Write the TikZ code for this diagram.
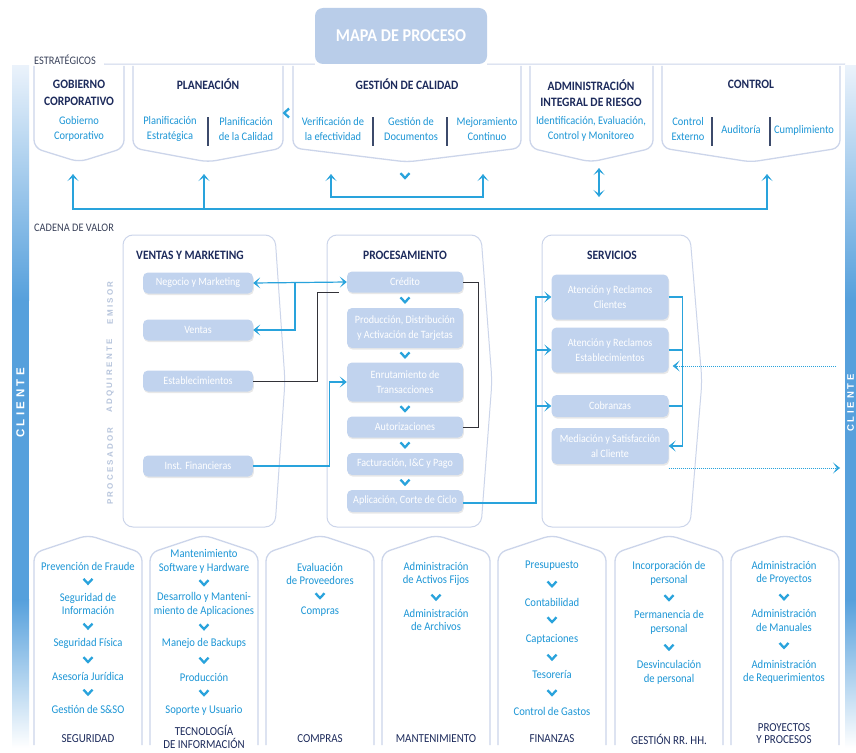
\documentclass[tikz,border=0pt]{standalone}
\usepackage{fontspec}
\setmainfont[FakeStretch=0.9]{Carlito}
\newfontfamily\barfont[LetterSpace=30]{Liberation Sans}
\newfontfamily\lanefont[LetterSpace=28]{Liberation Sans}
\usetikzlibrary{calc, positioning, arrows.meta, shadows}

\definecolor{navy}{RGB}{29,43,92}
\definecolor{itemblue}{RGB}{28,150,214}
\definecolor{linkblue}{RGB}{41,163,220}
\definecolor{boxfill}{RGB}{193,211,238}
\definecolor{titlefill}{RGB}{185,205,233}
\definecolor{framecol}{RGB}{204,213,234}
\definecolor{sepcol}{RGB}{60,74,107}
\definecolor{secgray}{RGB}{58,66,90}
\definecolor{lanegray}{RGB}{182,196,220}
\definecolor{darkline}{RGB}{50,50,56}
\definecolor{barblue}{RGB}{86,160,220}
\definecolor{barpale}{RGB}{234,242,251}

\tikzset{
  sect/.style={font=\fontsize{11.5}{12}\selectfont, text=secgray, inner sep=0},
  hd/.style={font=\fontsize{12.8}{16.5}\selectfont\bfseries, text=navy, align=center, inner sep=0},
  sub/.style={font=\fontsize{11.6}{15}\selectfont, text=itemblue, align=center, inner sep=0},
  itm/.style={font=\fontsize{11.8}{13.5}\selectfont, text=itemblue, align=center, inner sep=0},
  foot/.style={font=\fontsize{12.2}{12.5}\selectfont, text=navy, align=center, inner sep=0},
  vbox/.style={fill=boxfill, rounded corners=5, text=white, align=center, inner sep=1,
    font=\fontsize{11.2}{14.5}\selectfont,
    drop shadow={opacity=0.18, shadow xshift=0.8pt, shadow yshift=-1.6pt}},
  titlebox/.style={fill=titlefill, rounded corners=8, text=white, minimum width=172, minimum height=56,
    font=\fontsize{18}{19}\selectfont\bfseries},
  lane/.style={rotate=90, font=\lanefont\bfseries\fontsize{8}{9}\selectfont, text=lanegray, inner sep=0},
  barlabel/.style={rotate=90, font=\barfont\bfseries\fontsize{11.5}{12}\selectfont, text=white, inner sep=0},
  link/.style={draw=linkblue, line width=1.2pt},
  dark/.style={draw=darkline, line width=0.9pt},
  dots/.style={draw=linkblue, line width=1pt, dash pattern=on 1pt off 1pt},
  frame/.style={draw=framecol, line width=1.3pt, rounded corners=8},
  thinframe/.style={draw=framecol, line width=1pt},
  panel/.style={draw=framecol, line width=1pt, rounded corners=10},
  sep/.style={draw=sepcol, line width=1.2pt},
  chev/.style={draw=linkblue, line width=2.3pt},
  chevdown/.pic={\draw[chev] (-4.5,-2.8) -- (0,2) -- (4.5,-2.8);},
  chevleft/.pic={\draw[chev] (2,-4.5) -- (-2.8,0) -- (2,4.5);},
  house/.pic={\draw[frame] (0,210) -- (0,18) -- (54,0) -- (108,18) -- (108,210);},
}

\begin{document}
\begin{tikzpicture}[x=1pt, y=-1pt, >={Stealth[length=7pt, width=11pt, inset=3.8pt]}]

  \fill[white] (0,0) rectangle (856,752);
  \useasboundingbox (0,0) rectangle (856,752);

  % client bars
  \shade[top color=barpale, bottom color=barblue] (12,66) rectangle (29,300);
  \fill[barblue] (12,299.5) rectangle (29,600);
  \shade[top color=barblue, bottom color=white] (12,599.5) rectangle (29,748);
  \shade[top color=barpale, bottom color=barblue] (845,66) rectangle (856,300);
  \fill[barblue] (845,299.5) rectangle (856,600);
  \shade[top color=barblue, bottom color=white] (845,599.5) rectangle (856,748);
  \node[barlabel] (cli-left)  at (20.5,403) {CLIENTE};
  \node[barlabel, font=\barfont\bfseries\fontsize{9.5}{10}\selectfont] (cli-right) at (850.5,403) {CLIENTE};

  % title
  \node[titlebox] (title) at (401,36) {MAPA DE PROCESO};

  % strategic processes
  \node[sect, anchor=west] (estrat) at (34,60) {ESTRATÉGICOS};
  \draw[thinframe] (104,64) -- (title.south west);
  \draw[thinframe] (title.south east) -- (845,64);

  \draw[frame] (34,66)  -- (34,148)  -- (79,162)  -- (124,148) -- (124,66);
  \draw[frame] (133,66) -- (133,148) -- (208,162) -- (283,148) -- (283,66);
  \draw[frame] (293,66) -- (293,148) -- (407,162) -- (521,148) -- (521,66);
  \draw[frame] (530,66) -- (530,148) -- (591,162) -- (653,148) -- (653,66);
  \draw[frame] (662,66) -- (662,148) -- (751,162) -- (840,148) -- (840,66);

  \node[hd] (gob-hd)  at (79,93)  {GOBIERNO\\CORPORATIVO};
  \node[sub] (gob-a)  at (79,129) {Gobierno\\Corporativo};

  \node[hd] (plan-hd) at (208,84)  {PLANEACIÓN};
  \node[sub] (plan-a) at (170,129) {Planificación\\Estratégica};
  \node[sub] (plan-b) at (246,129) {Planificación\\de la Calidad};
  \draw[sep] (208,117) -- (208,146);

  \node[hd] (cal-hd) at (407,84)  {GESTIÓN DE CALIDAD};
  \node[sub] (cal-a) at (333,129) {Verificación de\\la efectividad};
  \node[sub] (cal-b) at (411,129) {Gestión de\\Documentos};
  \node[sub] (cal-c) at (487,129) {Mejoramiento\\Continuo};
  \draw[sep] (373,117) -- (373,146);
  \draw[sep] (447,117) -- (447,146);

  \node[hd] (rie-hd) at (591,93)  {ADMINISTRACIÓN\\INTEGRAL DE RIESGO};
  \node[sub] (rie-a) at (591,129) {Identificación, Evaluación,\\Control y Monitoreo};

  \node[hd] (ctl-hd) at (751,84)  {CONTROL};
  \node[sub] (ctl-a) at (688,129) {Control\\Externo};
  \node[sub] (ctl-b) at (741,130) {Auditoría};
  \node[sub] (ctl-c) at (804,130) {Cumplimiento};
  \draw[sep] (712,117) -- (712,146);
  \draw[sep] (770,117) -- (770,146);

  \pic at (287,113) {chevleft};

  % feedback lines under the strategic row
  \coordinate (up-gob)  at (73,174);
  \coordinate (up-plan) at (204,174);
  \coordinate (up-ver)  at (331,174);
  \coordinate (up-mej)  at (483,174);
  \coordinate (up-ctl)  at (767,174);
  \coordinate (bus-w)   at (73,209);
  \coordinate (cal-bar) at (407,197);
  \coordinate (rie-top) at (599,168);
  \coordinate (rie-bot) at (599,197);

  \draw[link, <->] (up-gob) -- (bus-w) -| (up-ctl);
  \draw[link, ->] (up-plan |- bus-w) -- (up-plan);
  \draw[link, <->] (up-ver) -- (up-ver |- cal-bar) -- (up-mej |- cal-bar) -- (up-mej);
  \draw[link, <->] (rie-top) -- (rie-bot);
  \pic at (405,176) {chevdown};

  % value chain
  \node[sect, anchor=west] (cadena) at (34,228) {CADENA DE VALOR};

  \draw[panel] (123,235) -- (275,235) -- (285,381) -- (275,527) -- (123,527) -- cycle;
  \draw[panel] (327,235) -- (481,235) -- (492,381) -- (481,527) -- (327,527) -- cycle;
  \draw[panel] (542,235) -- (690,235) -- (702,381) -- (690,527) -- (542,527) -- cycle;

  \node[hd] (vm-hd) at (190,255) {VENTAS Y MARKETING};
  \node[hd] (pr-hd) at (405,255) {PROCESAMIENTO};
  \node[hd] (sv-hd) at (612,255) {SERVICIOS};

  \node[lane] (emisor) at (110,303) {EMISOR};
  \node[lane] (adqui)  at (110,376) {ADQUIRENTE};
  \node[lane] (proce)  at (110,466) {PROCESADOR};

  \node[vbox, minimum width=110, minimum height=21] (neg)  at (198,283) {Negocio y Marketing};
  \node[vbox, minimum width=110, minimum height=21] (ven)  at (198,330) {Ventas};
  \node[vbox, minimum width=110, minimum height=21] (est)  at (198,381) {Establecimientos};
  \node[vbox, minimum width=110, minimum height=21] (inst) at (198,466) {Inst. Financieras};

  \node[vbox, minimum width=116, minimum height=21] (cred) at (405,282) {Crédito};
  \node[vbox, minimum width=116, minimum height=40] (prod) at (405,328) {Producción, Distribución\\y Activación de Tarjetas};
  \node[vbox, minimum width=116, minimum height=39] (enr)  at (405,382) {Enrutamiento de\\Transacciones};
  \node[vbox, minimum width=116, minimum height=21] (aut)  at (405,427) {Autorizaciones};
  \node[vbox, minimum width=116, minimum height=22] (fac)  at (405,464) {Facturación, I\&C y Pago};
  \node[vbox, minimum width=116, minimum height=22] (apl)  at (405,501) {Aplicación, Corte de Ciclo};

  \pic at ($(cred.south)!0.5!(prod.north)$) {chevdown};
  \pic at ($(prod.south)!0.5!(enr.north)$)  {chevdown};
  \pic at ($(enr.south)!0.5!(aut.north)$)   {chevdown};
  \pic at ($(aut.south)!0.5!(fac.north)$)   {chevdown};
  \pic at ($(fac.south)!0.5!(apl.north)$)   {chevdown};

  \node[vbox, minimum width=117, minimum height=45] (aten-cl) at (610,297) {Atención y Reclamos\\Clientes};
  \node[vbox, minimum width=117, minimum height=45] (aten-es) at (610,350) {Atención y Reclamos\\Establecimientos};
  \node[vbox, minimum width=117, minimum height=22] (cob)     at (610,406) {Cobranzas};
  \node[vbox, minimum width=117, minimum height=36] (med)     at (610,446) {Mediación y Satisfacción\\al Cliente};

  % connectors of the value chain
  \coordinate (j-neg) at (295,283);
  \draw[link, <->] (neg.east) -- (cred.west);
  \draw[link, ->] (neg.east -| j-neg) |- (ven.east);
  \draw[dark] (est.east) -| ($(cred.south west)+(-29,0)$) -- ($(cred.south west)+(-8,0)$);
  \draw[link, ->] (inst.east) -| ($(enr.west)+(-17,0)$) -- (enr.west);
  \draw[dark] (cred.east) -- ++(15,0) |- (aut.east);

  \coordinate (j-srv) at (536,503);
  \draw[link, ->] (apl.east |- j-srv) -- (j-srv) |- (aten-cl.west);
  \draw[link, ->] (aten-es.west -| j-srv) -- (aten-es.west);
  \draw[link, ->] (cob.west -| j-srv) -- (cob.west);
  \draw[link, ->] (aten-cl.east) -- ++(14,0) |- (med.east);
  \draw[link] (aten-es.east) -- ++(14,0);
  \draw[link] (cob.east) -- ++(14,0);

  \coordinate (cli-in)  at (836,366);
  \coordinate (cli-out) at (840,468);
  \draw[dots, ->] (cli-in) -- ($(aten-es.east |- cli-in)+(4,0)$);
  \draw[dots, ->] (med.east |- cli-out) -- (cli-out);

  % support processes
  \pic at (34,535)  {house};
  \pic at (150,535) {house};
  \pic at (266,535) {house};
  \pic at (382,535) {house};
  \pic at (498,535) {house};
  \pic at (615,535) {house};
  \pic at (731,535) {house};

  \node[itm] (seg-a) at (88,566) {Prevención de Fraude};
  \node[itm] (seg-b) at (88,604) {Seguridad de\\Información};
  \node[itm] (seg-c) at (88,643) {Seguridad Física};
  \node[itm] (seg-d) at (88,676) {Asesoría Jurídica};
  \node[itm] (seg-e) at (88,709) {Gestión de S\&SO};
  \node[foot] (seg-hd) at (88,739) {SEGURIDAD};
  \pic at ($(seg-a.south)!0.5!(seg-b.north)$) {chevdown};
  \pic at ($(seg-b.south)!0.5!(seg-c.north)$) {chevdown};
  \pic at ($(seg-c.south)!0.5!(seg-d.north)$) {chevdown};
  \pic at ($(seg-d.south)!0.5!(seg-e.north)$) {chevdown};

  \node[itm] (tec-a) at (204,561.5) {Mantenimiento\\Software y Hardware};
  \node[itm] (tec-b) at (204,604.5) {Desarrollo y Manteni-\\miento de Aplicaciones};
  \node[itm] (tec-c) at (204,643) {Manejo de Backups};
  \node[itm] (tec-d) at (204,677) {Producción};
  \node[itm] (tec-e) at (204,710) {Soporte y Usuario};
  \node[foot] (tec-hd) at (204,737) {TECNOLOGÍA\\DE INFORMACIÓN};
  \pic at ($(tec-a.south)!0.5!(tec-b.north)$) {chevdown};
  \pic at ($(tec-b.south)!0.5!(tec-c.north)$) {chevdown};
  \pic at ($(tec-c.south)!0.5!(tec-d.north)$) {chevdown};
  \pic at ($(tec-d.south)!0.5!(tec-e.north)$) {chevdown};

  \node[itm] (com-a) at (320,574) {Evaluación\\de Proveedores};
  \node[itm] (com-b) at (320,612) {Compras};
  \node[foot] (com-hd) at (320,739) {COMPRAS};
  \pic at ($(com-a.south)!0.5!(com-b.north)$) {chevdown};

  \node[itm] (man-a) at (436,574) {Administración\\de Activos Fijos};
  \node[itm] (man-b) at (436,620) {Administración\\de Archivos};
  \node[foot] (man-hd) at (436,739) {MANTENIMIENTO};
  \pic at ($(man-a.south)!0.5!(man-b.north)$) {chevdown};

  \node[itm] (fin-a) at (552,566) {Presupuesto};
  \node[itm] (fin-b) at (552,602) {Contabilidad};
  \node[itm] (fin-c) at (552,639) {Captaciones};
  \node[itm] (fin-d) at (552,675) {Tesorería};
  \node[itm] (fin-e) at (552,711) {Control de Gastos};
  \node[foot] (fin-hd) at (552,739) {FINANZAS};
  \pic at ($(fin-a.south)!0.5!(fin-b.north)$) {chevdown};
  \pic at ($(fin-b.south)!0.5!(fin-c.north)$) {chevdown};
  \pic at ($(fin-c.south)!0.5!(fin-d.north)$) {chevdown};
  \pic at ($(fin-d.south)!0.5!(fin-e.north)$) {chevdown};

  \node[itm] (rh-a) at (669,573.5) {Incorporación de\\personal};
  \node[itm] (rh-b) at (669,622.5) {Permanencia de\\personal};
  \node[itm] (rh-c) at (669,672.5) {Desvinculación\\de personal};
  \node[foot] (rh-hd) at (669,739) {GESTIÓN RR. HH.};
  \pic at ($(rh-a.south)!0.5!(rh-b.north)$) {chevdown};
  \pic at ($(rh-b.south)!0.5!(rh-c.north)$) {chevdown};

  \node[itm] (pp-a) at (784,573) {Administración\\de Proyectos};
  \node[itm] (pp-b) at (784,620.5) {Administración\\de Manuales};
  \node[itm] (pp-c) at (784,672) {Administración\\de Requerimientos};
  \node[foot] (pp-hd) at (784,733.5) {PROYECTOS\\Y PROCESOS};
  \pic at ($(pp-a.south)!0.5!(pp-b.north)$) {chevdown};
  \pic at ($(pp-b.south)!0.5!(pp-c.north)$) {chevdown};

\end{tikzpicture}
\end{document}
